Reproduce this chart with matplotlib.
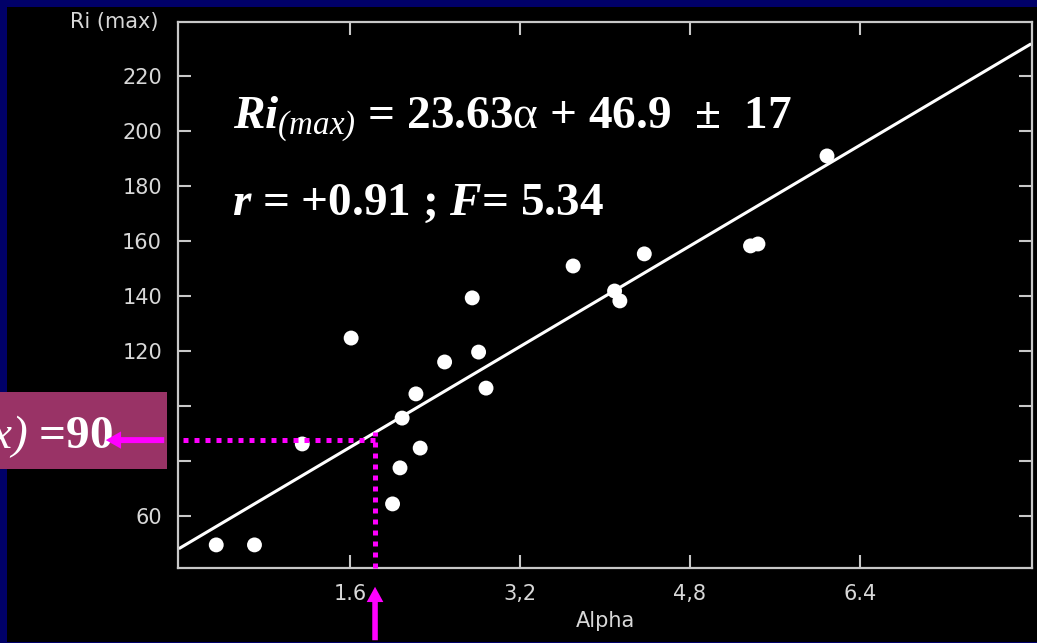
import matplotlib
matplotlib.use("Agg")
import matplotlib.pyplot as plt
from matplotlib.patches import Rectangle, FancyArrowPatch
from matplotlib.transforms import IdentityTransform

# ---- data ----
alpha = [0.34, 0.70, 1.15, 1.61, 2.00, 2.07, 2.09, 2.22, 2.26, 2.49,
         2.75, 2.81, 2.88, 3.70, 4.09, 4.14, 4.37, 5.37, 5.44, 6.09]
ri_max = [49.5, 49.5, 86.2, 124.7, 64.4, 77.5, 95.6, 104.4, 84.7, 116.0,
          139.3, 119.6, 106.5, 150.9, 141.8, 138.2, 155.3, 158.2, 158.9, 190.9]
fit_x = [0.0, 8.0]
fit_y = [48.4, 231.4]
guide_x = 1.835
guide_y = 87.6
guide_top = 90.5
xticks = [1.6, 3.2, 4.8, 6.4]
xticklabels = ["1.6", "3,2", "4,8", "6.4"]
yticks = [60, 80, 100, 120, 140, 160, 180, 200, 220]
yticklabels = ["60", "80", "100", "120", "140", "160", "180", "200", "220"]
eq_line1 = r"$Ri_{\mathcal{(max)}}$ = 23.63$\mathsf{α}$ + 46.9  ±  17"
eq_line2 = r"$r$ = +0.91 ; $F$= 5.34"
box_text = r"$Ri\mathcal{(max)}$ =90"

W, H = 1037, 643
plt.rcParams["mathtext.fontset"] = "custom"
plt.rcParams["mathtext.it"] = "Liberation Serif:italic:bold"
plt.rcParams["mathtext.rm"] = "Liberation Serif:bold"
plt.rcParams["mathtext.bf"] = "Liberation Serif:bold"
plt.rcParams["mathtext.cal"] = "Liberation Serif:italic"
plt.rcParams["mathtext.sf"] = "Liberation Serif"

NAVY = "#000068"
GRAY = "#c8c8c8"
LBL = "#d8d8d8"
MAG = "#ff00ff"

fig = plt.figure(figsize=(W / 100, H / 100), dpi=100, facecolor=NAVY)
# black panel inside the navy border
fig.add_artist(Rectangle((7 / W, 1 / H), (W - 7) / W, (H - 8) / H,
                         transform=fig.transFigure, facecolor="black",
                         edgecolor="none", zorder=-5))

ax = fig.add_axes([178 / W, 1 - 568 / H, (1032 - 178) / W, (568 - 22) / H])
ax.set_facecolor("black")
ax.set_xlim(-0.02, 8.02)
ax.set_ylim(41.1, 239.6)
for s in ax.spines.values():
    s.set_color(GRAY)
    s.set_linewidth(1.6)

ax.set_xticks(xticks)
ax.set_xticklabels(xticklabels)
ax.set_yticks(yticks)
ax.set_yticklabels(yticklabels)
ax.tick_params(direction="in", length=9.4, width=1.5, color=GRAY,
               top=True, right=True, labelcolor=LBL, labelsize=15, pad=11.5)
ax.set_xlabel("Alpha", color=LBL, fontsize=15, labelpad=5)
ax.annotate("Ri (max)", xy=(0, 1), xycoords="axes fraction", xytext=(-20, 0),
            textcoords="offset pixels", ha="right", va="center",
            color=LBL, fontsize=15, annotation_clip=False)

# regression line and points
ax.plot(fit_x, fit_y, color="white", lw=2.2, zorder=2)
ax.scatter(alpha, ri_max, s=115, color="white", edgecolors="none", zorder=3)

# magenta dotted guides
ax.plot([0.03, guide_x], [guide_y, guide_y], color=MAG, lw=3.6,
        linestyle=(0, (1, 1.2)), zorder=4)
ax.plot([guide_x, guide_x], [ax.get_ylim()[0], guide_top], color=MAG, lw=3.6,
        linestyle=(0, (1, 1.2)), zorder=4, clip_on=False)

# equations
ax.text(233 / W, 1 - 128 / H, eq_line1, transform=fig.transFigure,
        fontsize=34, family="Liberation Serif", weight="bold", color="white",
        va="baseline", ha="left")
ax.text(232 / W, 1 - 215 / H, eq_line2, transform=fig.transFigure,
        fontsize=34, family="Liberation Serif", weight="bold", color="white",
        va="baseline", ha="left")

# purple box with clipped label
fig.add_artist(Rectangle((0, 1 - 469 / H), 167 / W, (469 - 392) / H,
                         transform=fig.transFigure, facecolor="#993366",
                         edgecolor="none", zorder=5))
fig.text(113 / W, 1 - 448 / H, box_text, fontsize=34, family="Liberation Serif",
         weight="bold", color="white", ha="right", va="baseline", zorder=6)

fig.canvas.draw()
gx, gy = ax.transData.transform((guide_x, guide_y))
fig.add_artist(FancyArrowPatch((167, gy), (103, gy), transform=IdentityTransform(),
                               arrowstyle="simple,head_length=11,head_width=12.5,tail_width=4.3",
                               mutation_scale=1, color=MAG, lw=0, zorder=7))
fig.add_artist(FancyArrowPatch((gx, 0), (gx, H - 584), transform=IdentityTransform(),
                               arrowstyle="simple,head_length=11,head_width=12,tail_width=4",
                               mutation_scale=1, color=MAG, lw=0, zorder=7))

fig.savefig("out.png", dpi=100, facecolor=NAVY)
